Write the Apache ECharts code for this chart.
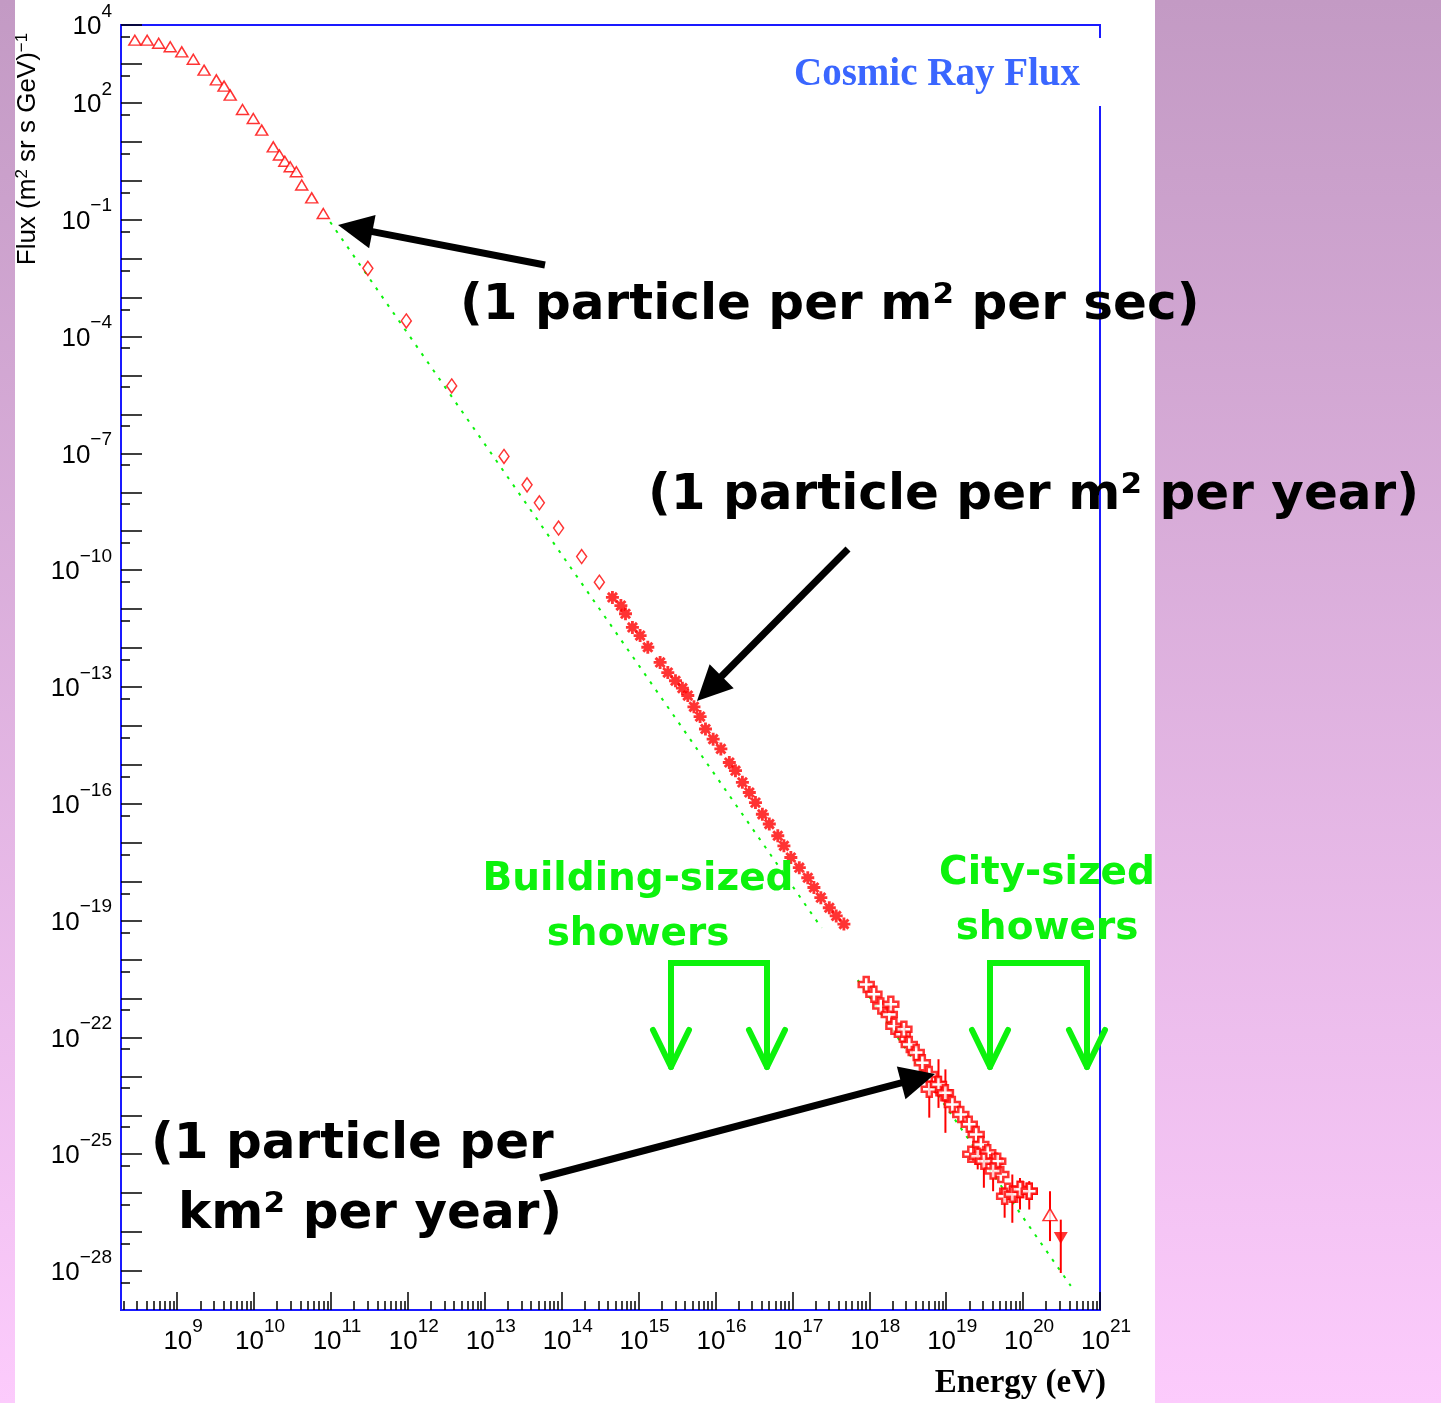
<!DOCTYPE html>
<html>
<head>
<meta charset="utf-8">
<title>Cosmic Ray Flux</title>
<script src="https://cdn.jsdelivr.net/npm/echarts@6.0.0/dist/echarts.min.js"></script>
<style>
  html, body { margin: 0; padding: 0; }
  #chart { width: 1441px; height: 1403px; }
</style>
</head>
<body>
<div id="chart"></div>
<script>
// all values are log10: energy in eV, flux in (m^2 sr s GeV)^-1

// low energy, open triangles
const triE = [8.45, 8.61, 8.76, 8.91, 9.06, 9.21, 9.35, 9.51, 9.61, 9.69, 9.85, 9.99, 10.10, 10.25, 10.33, 10.40, 10.47, 10.55, 10.62, 10.75, 10.90]
const triF = [3.61, 3.61, 3.53, 3.44, 3.31, 3.12, 2.84, 2.59, 2.43, 2.20, 1.83, 1.60, 1.30, 0.87, 0.66, 0.50, 0.36, 0.23, -0.11, -0.44, -0.84]

// open diamonds
const diaE = [11.48, 11.98, 12.57, 13.25, 13.55, 13.71, 13.96, 14.26, 14.49]
const diaF = [-2.25, -3.60, -5.27, -7.08, -7.81, -8.27, -8.92, -9.65, -10.31]

// asterisks around the knee
const starE = [14.66, 14.77, 14.83, 14.92, 15.02, 15.12, 15.28, 15.38, 15.48, 15.57, 15.64, 15.72, 15.80, 15.87, 15.97, 16.07, 16.18, 16.26, 16.35, 16.44, 16.52, 16.61, 16.70, 16.81, 16.89, 16.98, 17.09, 17.20, 17.28, 17.37, 17.48, 17.57, 17.67]
const starF = [-10.70, -10.91, -11.12, -11.47, -11.68, -11.98, -12.37, -12.63, -12.84, -13.03, -13.22, -13.51, -13.76, -14.08, -14.34, -14.59, -14.94, -15.15, -15.45, -15.71, -15.97, -16.27, -16.52, -16.82, -17.08, -17.38, -17.64, -17.90, -18.15, -18.41, -18.67, -18.88, -19.09]

// highest energies, open crosses
const heE = [17.96, 18.06, 18.15, 18.26, 18.28, 18.32, 18.43, 18.45, 18.52, 18.61, 18.69, 18.78, 18.89, 18.97, 19.08, 19.19, 19.30, 19.32, 19.39, 19.45, 19.54, 19.63, 19.67, 19.71, 19.80, 19.89, 19.97, 20.08]
const heF = [-20.64, -20.89, -21.19, -21.41, -21.15, -21.71, -21.92, -21.79, -22.18, -22.39, -22.65, -22.95, -23.21, -23.42, -23.72, -23.98, -24.23, -25.00, -24.49, -24.75, -24.96, -25.18, -25.18, -25.52, -25.95, -26.03, -25.91, -25.95]

// points that carry a vertical error bar (lo / hi ends)
const errE = [18.78, 18.90, 18.99, 19.41, 19.49, 19.61, 19.76, 19.86, 19.96, 20.08, 20.35, 20.49]
const errF = [-23.33, -23.21, -23.42, -25.05, -25.18, -25.43, -26.08, -26.03, -25.90, -25.95, -26.55, -27.15]
const errLo = [-24.06, -23.81, -24.45, -25.39, -25.86, -25.95, -26.63, -26.76, -26.42, -26.42, -27.23, -28.05]
const errHi = [-23.12, -22.56, -22.82, -24.83, -25.09, -25.18, -25.86, -25.52, -25.61, -25.69, -25.95, -26.68]

// last two points: open triangle and filled down triangle
const endE = [20.35]
const endF = [-26.55]
const limE = [20.49]
const limF = [-27.15]

// green dotted power law (split where the slide covers it)
const fitE1 = [10.99, 17.38]
const fitF1 = [-1.06, -19.19]
const fitE2 = [17.85, 20.62]
const fitF2 = [-20.53, -28.38]

// tick labels (exponents)
const xLabelExp = [9, 10, 11, 12, 13, 14, 15, 16, 17, 18, 19, 20, 21]
const yLabelExp = [4, 2, -1, -4, -7, -10, -13, -16, -19, -22, -25, -28]

const X_MIN = 8.27
const X_MAX = 21
const Y_MIN = -29
const Y_MAX = 4

// decade ticks + log minor ticks
const xMajor = []
const xMinor = []
for (let n = 8; n <= 21; n++) {
  if (n >= X_MIN) xMajor.push(n)
  for (let k = 2; k <= 9; k++) {
    const v = n + Math.log10(k)
    if (v > X_MIN && v < X_MAX) xMinor.push(v)
  }
}
const yMajor = []
const yMinor = []
for (let n = -28; n <= 4; n++) yMajor.push(n)
for (let n = -29; n <= 3; n++) yMinor.push(n + Math.log10(5))

const pairs = (a, b) => a.map((v, i) => [v, b[i]])
const supText = v => (v < 0 ? '\u2212' + (-v) : '' + v)

const RED = '#ff0000'
const BLUE = '#1a1aff'
const GREEN = '#0cf20c'
const tickStyle = { color: '#000', width: 1.5 }
const labelRich = {
  b: { fontSize: 26, fontFamily: 'Liberation Sans', color: '#000', lineHeight: 26, verticalAlign: 'bottom' },
  s: { fontSize: 19, fontFamily: 'Liberation Sans', color: '#000', lineHeight: 19, padding: [0, 0, 19, 0], verticalAlign: 'bottom' }
}

const starPath = 'path://M-1.1,-5 L1.1,-5 L1.1,5 L-1.1,5 Z M-5,-1.1 L5,-1.1 L5,1.1 L-5,1.1 Z M-4.3,-2.7 L-2.7,-4.3 L4.3,2.7 L2.7,4.3 Z M2.7,-4.3 L4.3,-2.7 L-2.7,4.3 L-4.3,2.7 Z'
const crossPath = 'path://M-1,-3 L1,-3 L1,-1 L3,-1 L3,1 L1,1 L1,3 L-1,3 L-1,1 L-3,1 L-3,-1 L-1,-1 Z'

// arrow = thick line + filled head, pixel coords of tail and tip
function arrow (x1, y1, x2, y2) {
  const len = Math.hypot(x2 - x1, y2 - y1)
  const ux = (x2 - x1) / len
  const uy = (y2 - y1) / len
  const hl = 35 // head length
  const hw = 17 // half width of head
  const bx = x2 - ux * hl
  const by = y2 - uy * hl
  return [
    { type: 'line', z: 100, shape: { x1: x1, y1: y1, x2: bx + ux * 4, y2: by + uy * 4 }, style: { stroke: '#000', lineWidth: 7 } },
    { type: 'polygon', z: 100, shape: { points: [[x2, y2], [bx - uy * hw, by + ux * hw], [bx + uy * hw, by - ux * hw]] }, style: { fill: '#000' } }
  ]
}

function bracket (xl, xr) {
  const top = 963
  const bot = 1067
  const st = { stroke: GREEN, lineWidth: 6, lineCap: 'round', lineJoin: 'miter', fill: null }
  return [
    { type: 'polyline', z: 100, shape: { points: [[xl, bot], [xl, top], [xr, top], [xr, bot]] }, style: st },
    { type: 'polyline', z: 100, shape: { points: [[xl - 18, bot - 37], [xl, bot], [xl + 18, bot - 37]] }, style: Object.assign({}, st, { lineJoin: 'round' }) },
    { type: 'polyline', z: 100, shape: { points: [[xr - 18, bot - 37], [xr, bot], [xr + 18, bot - 37]] }, style: Object.assign({}, st, { lineJoin: 'round' }) }
  ]
}

function note (text, x, baseline, size, color, align) {
  return {
    type: 'text',
    z: 100,
    x: x,
    y: baseline - size * 0.346,
    style: {
      text: text,
      fill: color,
      font: 'bold ' + size + 'px "DejaVu Sans"',
      align: align || 'left',
      verticalAlign: 'middle'
    }
  }
}

const chart = echarts.init(document.getElementById('chart'))

const option = {
  animation: false,
  backgroundColor: {
    type: 'linear', x: 0, y: 0, x2: 0, y2: 1,
    colorStops: [{ offset: 0, color: '#c39ac4' }, { offset: 1, color: '#fccbfc' }]
  },
  grid: {
    left: 121,
    top: 25,
    width: 979,
    height: 1285,
    outerBoundsMode: 'none',
    containLabel: false,
    show: true,
    backgroundColor: '#fff',
    borderColor: BLUE,
    borderWidth: 2
  },
  xAxis: [
    {
      type: 'value',
      min: X_MIN,
      max: X_MAX,
      position: 'bottom',
      axisLine: { show: true, onZero: false, lineStyle: { color: BLUE, width: 2 } },
      axisTick: { show: true, inside: true, length: 18, customValues: xMajor, lineStyle: tickStyle },
      axisLabel: {
        show: true,
        customValues: xLabelExp,
        margin: 19,
        padding: [0, 0, 0, 12],
        formatter: v => '{b|10}{s|' + supText(v) + '}',
        rich: labelRich
      },
      splitLine: { show: false }
    },
    {
      type: 'value',
      min: X_MIN,
      max: X_MAX,
      position: 'bottom',
      axisLine: { show: false, onZero: false },
      axisTick: { show: true, inside: true, length: 9, customValues: xMinor, lineStyle: tickStyle },
      axisLabel: { show: false },
      splitLine: { show: false }
    }
  ],
  yAxis: [
    {
      type: 'value',
      min: Y_MIN,
      max: Y_MAX,
      position: 'left',
      axisLine: { show: true, onZero: false, lineStyle: { color: BLUE, width: 2 } },
      axisTick: { show: true, inside: true, length: 21, customValues: yMajor, lineStyle: tickStyle },
      axisLabel: {
        show: true,
        customValues: yLabelExp,
        margin: 9,
        padding: [4, 0, 0, 0],
        formatter: v => '{b|10}{s|' + supText(v) + '}',
        rich: labelRich
      },
      splitLine: { show: false }
    },
    {
      type: 'value',
      min: Y_MIN,
      max: Y_MAX,
      position: 'left',
      axisLine: { show: false, onZero: false },
      axisTick: { show: true, inside: true, length: 9, customValues: yMinor, lineStyle: tickStyle },
      axisLabel: { show: false },
      splitLine: { show: false }
    }
  ],
  series: [
    {
      type: 'line',
      data: pairs(fitE1, fitF1),
      symbol: 'none',
      z: 2,
      lineStyle: { color: GREEN, width: 2, type: [3, 7] }
    },
    {
      type: 'line',
      data: pairs(fitE2, fitF2),
      symbol: 'none',
      z: 2,
      lineStyle: { color: GREEN, width: 2, type: [3, 7] }
    },
    {
      type: 'scatter',
      data: pairs(triE, triF),
      symbol: 'triangle',
      symbolSize: [12, 10],
      z: 3,
      itemStyle: { color: '#fff', borderColor: RED, borderWidth: 1.5 }
    },
    {
      type: 'scatter',
      data: pairs(diaE, diaF),
      symbol: 'diamond',
      symbolSize: [10, 14],
      z: 3,
      itemStyle: { color: '#fff', borderColor: RED, borderWidth: 1.5 }
    },
    {
      type: 'scatter',
      data: pairs(starE, starF),
      symbol: starPath,
      symbolSize: 13,
      z: 3,
      itemStyle: { color: RED }
    },
    {
      type: 'custom',
      data: errE.map((e, i) => [e, errF[i], errLo[i], errHi[i]]),
      encode: { x: 0, y: 1 },
      z: 3,
      renderItem: (params, api) => {
        const p1 = api.coord([api.value(0), api.value(2)])
        const p2 = api.coord([api.value(0), api.value(3)])
        return {
          type: 'line',
          shape: { x1: p1[0], y1: p1[1], x2: p2[0], y2: p2[1] },
          style: { stroke: RED, lineWidth: 2 }
        }
      }
    },
    {
      type: 'scatter',
      data: pairs(heE, heF).concat(pairs(errE.slice(0, 10), errF.slice(0, 10))),
      symbol: crossPath,
      symbolSize: 15,
      z: 4,
      itemStyle: { color: '#fff', borderColor: RED, borderWidth: 2.5 }
    },
    {
      type: 'scatter',
      data: pairs(endE, endF),
      symbol: 'triangle',
      symbolSize: [14, 12],
      z: 4,
      itemStyle: { color: '#fff', borderColor: RED, borderWidth: 1.5 }
    },
    {
      type: 'scatter',
      data: pairs(limE, limF),
      symbol: 'triangle',
      symbolRotate: 180,
      symbolSize: [14, 12],
      z: 4,
      itemStyle: { color: RED }
    }
  ],
  graphic: [
    // white slide panel behind the plot
    { type: 'rect', z: -1, silent: true, shape: { x: 15, y: 0, width: 1140, height: 1403 }, style: { fill: '#fff' } },
    // title box covering the frame
    { type: 'rect', z: 50, shape: { x: 770, y: 38, width: 332, height: 68 }, style: { fill: '#fff' } },
    {
      type: 'text', z: 51, x: 1080, y: 75,
      style: { text: 'Cosmic Ray Flux', fill: '#3a66ff', font: 'bold 39px "Liberation Serif"', align: 'right', verticalAlign: 'middle' }
    },
    {
      type: 'text', z: 51, x: 1106, y: 1383,
      style: { text: 'Energy (eV)', fill: '#000', font: 'bold 33px "Liberation Serif"', align: 'right', verticalAlign: 'middle' }
    },
    {
      type: 'text', z: 51, x: 28, y: 149, rotation: Math.PI / 2,
      style: {
        text: 'Flux (m{s|2} sr s GeV){s|\u22121}',
        fill: '#000',
        font: '26px "Liberation Sans"',
        align: 'center',
        verticalAlign: 'middle',
        rich: { s: { fontSize: 17, fontFamily: 'Liberation Sans', padding: [0, 0, 11, 0], verticalAlign: 'bottom' } }
      }
    },
    note('(1 particle per m\u00b2 per sec)', 460, 323, 50, '#000'),
    note('(1 particle per m\u00b2 per year)', 648, 513, 50, '#000'),
    note('(1 particle per', 151, 1162, 50, '#000'),
    note('km\u00b2 per year)', 178, 1232, 50, '#000'),
    note('Building-sized', 638, 893, 39, GREEN, 'center'),
    note('showers', 638, 948, 39, GREEN, 'center'),
    note('City-sized', 1047, 887, 39, GREEN, 'center'),
    note('showers', 1047, 942, 39, GREEN, 'center')
  ]
    .concat(arrow(545, 265, 338, 225))
    .concat(arrow(848, 549, 697, 701))
    .concat(arrow(540, 1178, 935, 1074))
    .concat(bracket(671, 767))
    .concat(bracket(990, 1087))
}

chart.setOption(option)
</script>
</body>
</html>
